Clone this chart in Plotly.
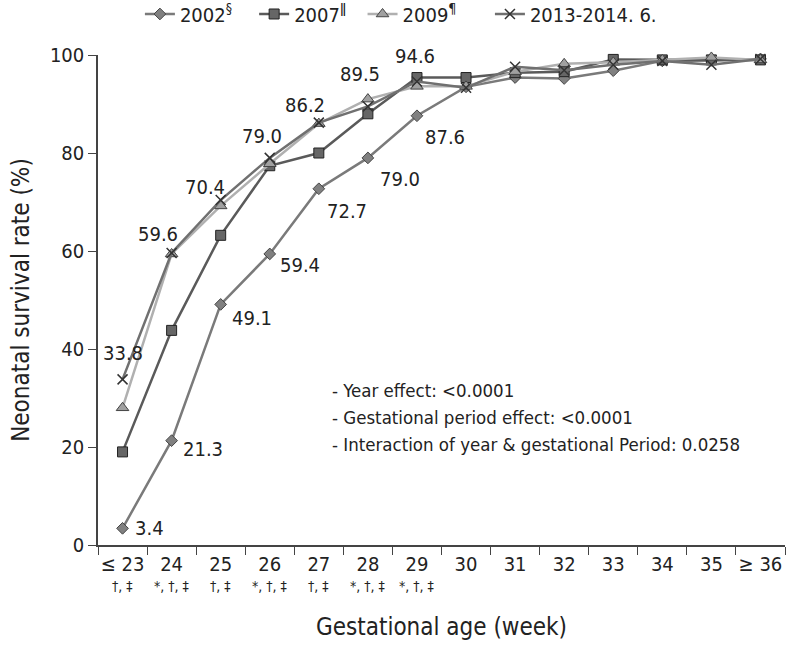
import plotly.graph_objects as go

categories = ["≤23", "24", "25", "26", "27", "28", "29", "30", "31", "32", "33", "34", "35", "≥36"]
tick_main = ["≤ 23", "24", "25", "26", "27", "28", "29", "30", "31", "32", "33", "34", "35", "≥ 36"]
tick_sig = ["†, ‡", "*, †, ‡", "†, ‡", "*, †, ‡", "†, ‡", "*, †, ‡", "*, †, ‡", "", "", "", "", "", "", ""]

y2002 = [3.4, 21.3, 49.1, 59.4, 72.7, 79.0, 87.6, 93.5, 95.4, 95.2, 96.8, 98.8, 98.9, 99.2]
y2007 = [19.0, 43.8, 63.2, 77.4, 80.0, 88.0, 95.4, 95.4, 96.4, 96.6, 99.1, 99.0, 99.0, 99.0]
y2009 = [28.0, 59.4, 69.2, 77.8, 86.0, 91.0, 93.6, 93.6, 96.6, 98.2, 98.5, 99.0, 99.5, 99.0]
y2013 = [33.8, 59.6, 70.4, 79.0, 86.2, 89.5, 94.6, 93.3, 97.6, 96.9, 98.0, 98.8, 98.0, 99.2]

labels2013 = ["33.8", "59.6", "70.4", "79.0", "86.2", "89.5", "94.6"]
shift2013 = [(0, 26), (-14, 19), (-16, 13), (-8, 22), (-14, 18), (-8, 32), (-2, 25)]
labels2002 = ["3.4", "21.3", "49.1", "59.4", "72.7", "79.0", "87.6"]
shift2002 = [(27, 0), (31, -8), (31, -14), (30, -11), (28, -22), (32, -21), (28, -21)]

notes = ["- Year effect: <0.0001",
         "- Gestational period effect: <0.0001",
         "- Interaction of year & gestational Period: 0.0258"]

FONT = "Liberation Sans Narrow, DejaVu Sans Condensed, Arial Narrow, sans-serif"
xs = list(range(len(categories)))
NB = "\u00a0"

fig = go.Figure()
fig.add_trace(go.Scatter(x=xs, y=y2002, name="2002<sup>§</sup>" + NB * 3, mode="lines+markers",
                         line=dict(color="#7a7a7a", width=2.5),
                         marker=dict(symbol="diamond", size=9, color="#808080", line=dict(color="#444", width=1)),
                         cliponaxis=False))
fig.add_trace(go.Scatter(x=xs, y=y2007, name="2007<sup>ǁ</sup>" + NB * 2, mode="lines+markers",
                         line=dict(color="#5a5a5a", width=2.5),
                         marker=dict(symbol="square", size=10, color="#666666", line=dict(color="#222", width=1)),
                         cliponaxis=False))
fig.add_trace(go.Scatter(x=xs, y=y2009, name="2009<sup>¶</sup>" + NB * 5, mode="lines+markers",
                         line=dict(color="#b0b0b0", width=2.5),
                         marker=dict(symbol="triangle-up", size=11, color="#a0a0a0", line=dict(color="#444", width=1)),
                         cliponaxis=False))
fig.add_trace(go.Scatter(x=xs, y=y2013, name="2013-2014. 6.", mode="lines+markers",
                         line=dict(color="#707070", width=2.5),
                         marker=dict(symbol="x-thin", size=10, color="#333", line=dict(color="#333", width=1.5)),
                         cliponaxis=False))

for i, t in enumerate(labels2013):
    dx, dy = shift2013[i]
    fig.add_annotation(x=xs[i], y=y2013[i], text=t, showarrow=False,
                       xshift=dx, yshift=dy, font=dict(size=20, color="#222", family=FONT))
for i, t in enumerate(labels2002):
    dx, dy = shift2002[i]
    fig.add_annotation(x=xs[i], y=y2002[i], text=t, showarrow=False,
                       xshift=dx, yshift=dy, font=dict(size=20, color="#222", family=FONT))

for i, s in enumerate(tick_sig):
    if s:
        fig.add_annotation(x=xs[i], y=0, text=s, showarrow=False, yshift=-41,
                           font=dict(size=14, color="#222", family=FONT))

for k, line in enumerate(notes):
    fig.add_annotation(x=0.338, y=0.315, xref="paper", yref="paper", xanchor="left", yanchor="middle",
                       align="left", showarrow=False, text=line, yshift=-27 * k,
                       font=dict(size=18.5, color="#222", family=FONT))

fig.update_layout(
    width=794, height=655,
    margin=dict(l=98, r=9, t=55, b=110, autoexpand=False),
    paper_bgcolor="white", plot_bgcolor="white",
    font=dict(family=FONT, color="#222", size=20),
    showlegend=True,
    legend=dict(orientation="h", x=0.061, y=1.0837, xanchor="left", yanchor="middle",
                font=dict(size=20, family=FONT), bgcolor="rgba(0,0,0,0)"),
    xaxis=dict(range=[-0.5, len(categories) - 0.5], tickmode="array", tickvals=xs, ticktext=tick_main,
               ticks="", showline=True, linecolor="#444", linewidth=1.5, automargin=False,
               minor=dict(tick0=-0.5, dtick=1, ticks="outside", ticklen=8, tickcolor="#444", tickwidth=1.2),
               showgrid=False, zeroline=False, tickangle=0,
               title=dict(text="Gestational age (week)", font=dict(size=24), standoff=43),
               tickfont=dict(size=20)),
    yaxis=dict(range=[0, 100], tickvals=[0, 20, 40, 60, 80, 100], ticks="outside", ticklen=8,
               tickcolor="#444", tickwidth=1.2, showline=True, linecolor="#444", linewidth=1.5,
               showgrid=False, zeroline=False, automargin=False,
               title=dict(text="Neonatal survival rate (%)", font=dict(size=24), standoff=14),
               tickfont=dict(size=20)),
)

fig.write_html("out.html", config={"displayModeBar": False},
               post_script="document.body.style.margin='0';document.body.style.overflow='hidden';")
